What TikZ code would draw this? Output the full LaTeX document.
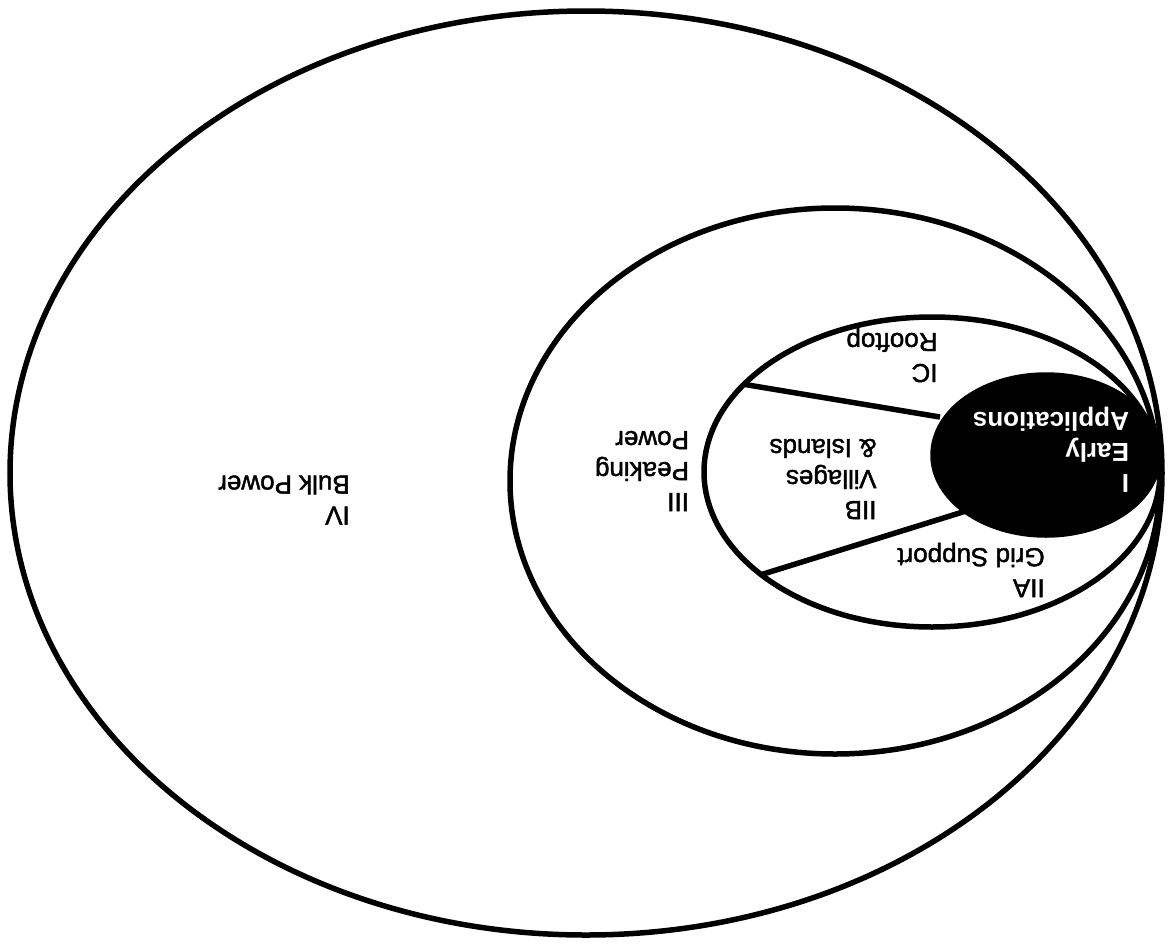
\documentclass[tikz,border=0pt]{standalone}
\usepackage{fontspec}
\setmainfont{Liberation Sans}
\newfontfamily\scanfont[FakeBold=1.6]{Liberation Sans}
\usetikzlibrary{shapes.geometric}
\tikzset{
  ring/.style={ellipse, draw, line width=5.5pt, inner sep=0pt, outer sep=0pt},
  zonetext/.style={rotate=180, align=left, inner sep=0pt, font=\scanfont\fontsize{26}{31}\selectfont}
}
\begin{document}
\begin{tikzpicture}[x=1pt, y=-1pt]
        \useasboundingbox (0,0) rectangle (1168,946);
        % nested markets, all touching at the right
        \node [ring, minimum width=1152pt, minimum height=924pt] (bulk) at (586,473) {};
        \node [ring, minimum width=650pt, minimum height=546pt] (peak) at (835,481) {};
        \node [ring, minimum width=456pt, minimum height=310pt] (mid) at (932,472) {};
        \coordinate (early) at (1046,455);
        \draw [line width=5.5pt] (early) ++(-106,-38) -- (mid.155);
        \draw [line width=5.5pt] (early) ++(-80,56) -- (mid.211);
        \node [ring, fill=black, minimum width=226pt, minimum height=160pt] (app) at (early) {};
        \begin{scope}
            \node [zonetext] (tIV) at (284,500) {IV\\Bulk Power};
            \node [zonetext] (tIII) at (642,471) {III\\Peaking\\Power};
            \node [zonetext] (tIC) at (892,355) {IC\\Rooftop};
            \node [zonetext] (tIIB) at (823,479) {IIB\\Villages\\\& Islands};
            \node [zonetext] (tIIA) at (971,570) {IIA\\Grid Support};
            \node [zonetext, text=white, font=\fontsize{26}{31}\selectfont\bfseries] (tI) at (1051,450) {I\\Early\\Applications};
        \end{scope}
    \end{tikzpicture}
\end{document}
